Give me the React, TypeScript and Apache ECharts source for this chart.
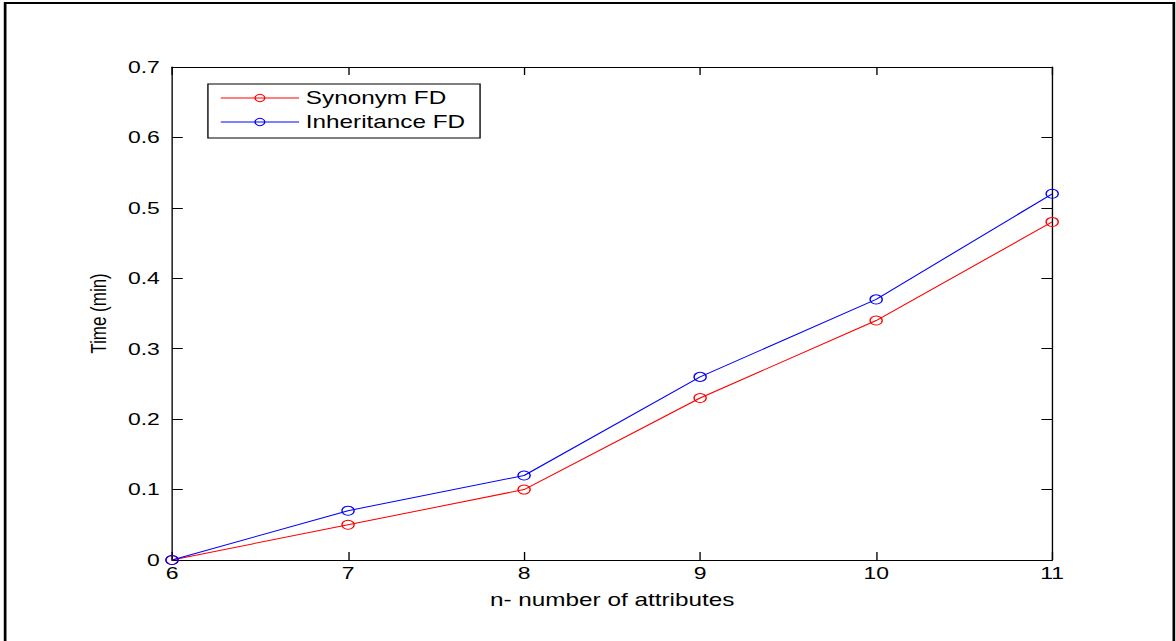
import React, { useEffect, useRef } from "react";
import * as echarts from "echarts";

const xValues = [6, 7, 8, 9, 10, 11];
const synonymFD = [0, 0.05, 0.1, 0.23, 0.34, 0.48];
const inheritanceFD = [0, 0.07, 0.12, 0.26, 0.37, 0.52];
const seriesNames = ["Synonym FD", "Inheritance FD"];
const xAxisTitle = "n- number of attributes";
const yAxisTitle = "Time (min)";

const PAGE_W = 1176;
const PAGE_H = 641;
const BASE_W = 871;
const SCALE_X = PAGE_W / BASE_W;

const FONT = "'Liberation Sans', Arial, Helvetica, sans-serif";

export default function App() {
  const ref = useRef<HTMLDivElement>(null);

  useEffect(() => {
    if (!ref.current) return;
    const chart = echarts.init(ref.current, undefined, { renderer: "svg" });
    const pairs = (ys: number[]) => xValues.map((x, i) => [x, ys[i]]);
    const axisLineStyle = { color: "#000", width: 1 };
    const tick = { show: true, inside: true, length: 8, lineStyle: { color: "#000", width: 1 } };
    chart.setOption({
      animation: false,
      backgroundColor: "#fff",
      textStyle: { fontFamily: FONT },
      grid: { left: 127.4, right: 91.7, top: 67, bottom: 81, containLabel: false },
      legend: {
        left: 154,
        top: 84,
        orient: "vertical",
        data: seriesNames,
        itemWidth: 58,
        itemHeight: 9,
        itemGap: 6,
        padding: [5, 11, 7, 9],
        borderColor: "#000",
        borderWidth: 1,
        backgroundColor: "#fff",
        lineStyle: { width: 1 },
        itemStyle: { borderWidth: 1 },
        textStyle: { fontFamily: FONT, fontSize: 18, color: "#000", lineHeight: 18 },
      },
      xAxis: [
        {
          type: "value",
          min: 6,
          max: 11,
          interval: 1,
          name: xAxisTitle,
          nameLocation: "middle",
          nameGap: 31,
          nameTextStyle: { fontFamily: FONT, fontSize: 18, color: "#000" },
          axisLine: { show: true, onZero: false, lineStyle: axisLineStyle },
          axisTick: tick,
          axisLabel: { fontFamily: FONT, fontSize: 17, color: "#000", margin: 5 },
          splitLine: { show: false },
        },
        {
          type: "value",
          position: "top",
          min: 6,
          max: 11,
          interval: 1,
          axisLine: { show: true, onZero: false, lineStyle: axisLineStyle },
          axisTick: tick,
          axisLabel: { show: false },
          splitLine: { show: false },
        },
      ],
      yAxis: [
        {
          type: "value",
          min: 0,
          max: 0.7,
          interval: 0.1,
          name: yAxisTitle,
          nameLocation: "middle",
          nameGap: 46,
          nameRotate: 90,
          nameTextStyle: { fontFamily: FONT, fontSize: 17, color: "#000" },
          axisLine: { show: true, onZero: false, lineStyle: axisLineStyle },
          axisTick: tick,
          axisLabel: {
            fontFamily: FONT,
            fontSize: 17,
            color: "#000",
            margin: 9,
            formatter: (v: number) => String(+v.toFixed(1)),
          },
          splitLine: { show: false },
        },
        {
          type: "value",
          position: "right",
          min: 0,
          max: 0.7,
          interval: 0.1,
          axisLine: { show: true, onZero: false, lineStyle: axisLineStyle },
          axisTick: tick,
          axisLabel: { show: false },
          splitLine: { show: false },
        },
      ],
      series: [
        {
          name: seriesNames[0],
          type: "line",
          data: pairs(synonymFD),
          symbol: "circle",
          symbolSize: 9,
          showAllSymbol: true,
          lineStyle: { color: "#ff0000", width: 1 },
          itemStyle: { color: "rgba(255,255,255,0)", borderColor: "#ff0000", borderWidth: 1 },
          color: "#ff0000",
          z: 2,
        },
        {
          name: seriesNames[1],
          type: "line",
          data: pairs(inheritanceFD),
          symbol: "circle",
          symbolSize: 9,
          showAllSymbol: true,
          lineStyle: { color: "#0000ff", width: 1 },
          itemStyle: { color: "rgba(255,255,255,0)", borderColor: "#0000ff", borderWidth: 1 },
          color: "#0000ff",
          z: 3,
        },
      ],
      graphic: [
        {
          type: "rect",
          silent: true,
          shape: { x: 3.8, y: 3, width: 865.6, height: 660 },
          style: { fill: "none", stroke: "#000", lineWidth: 2 },
          z: 100,
        },
      ],
    });
    return () => chart.dispose();
  }, []);

  return (
    <div
      style={{
        position: "fixed",
        left: 0,
        top: 0,
        width: PAGE_W,
        height: PAGE_H,
        overflow: "hidden",
        background: "#fff",
      }}
    >
      <div
        ref={ref}
        style={{
          width: BASE_W,
          height: PAGE_H,
          transform: `scaleX(${SCALE_X})`,
          transformOrigin: "0 0",
        }}
      />
    </div>
  );
}
